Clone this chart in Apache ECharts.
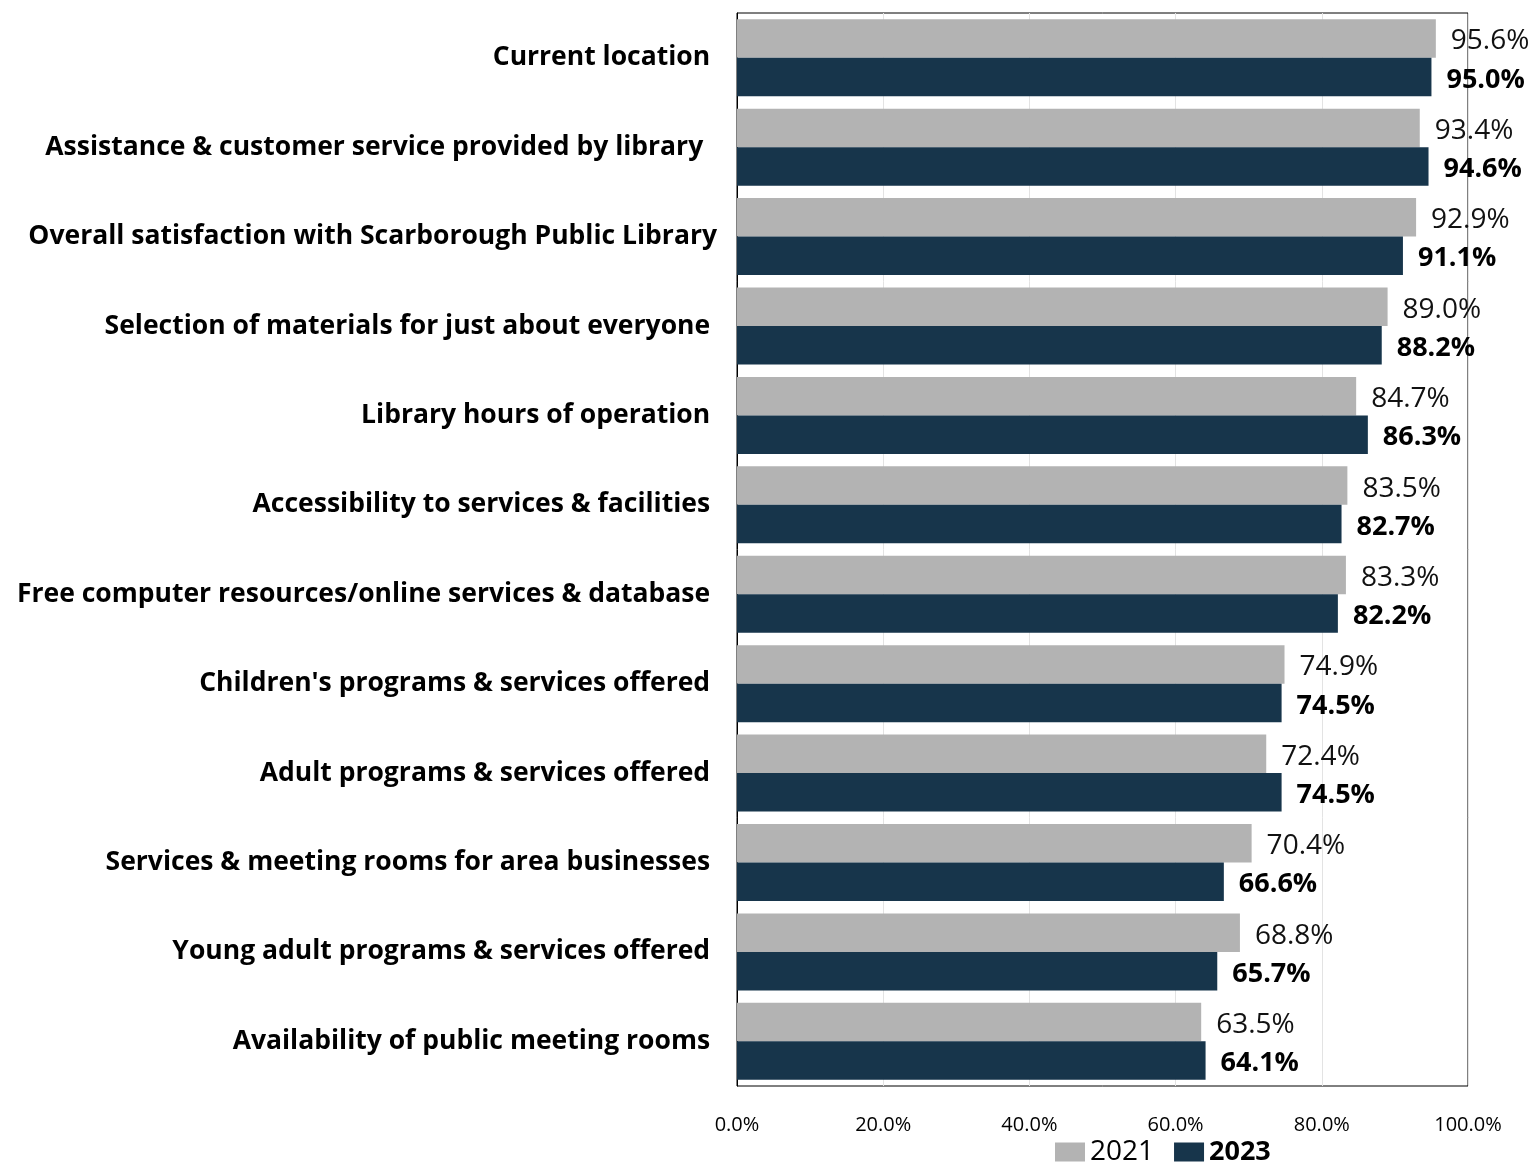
<!DOCTYPE html>
<html>
<head>
<meta charset="utf-8">
<script src="https://cdn.jsdelivr.net/npm/echarts@6/dist/echarts.min.js"></script>
<style>
  html, body { margin: 0; padding: 0; background: #fff; }
  #chart { width: 1535px; height: 1164px; }
</style>
</head>
<body>
<div id="chart"></div>
<script>
const categories = [
  'Current location ',
  'Assistance & customer service provided by library  ',
  'Overall satisfaction with Scarborough Public Library',
  'Selection of materials for just about everyone ',
  'Library hours of operation ',
  'Accessibility to services & facilities ',
  'Free computer resources/online services & database ',
  "Children's programs & services offered ",
  'Adult programs & services offered ',
  'Services & meeting rooms for area businesses ',
  'Young adult programs & services offered ',
  'Availability of public meeting rooms '
];
const values2021 = [95.6, 93.4, 92.9, 89.0, 84.7, 83.5, 83.3, 74.9, 72.4, 70.4, 68.8, 63.5];
const values2023 = [95.0, 94.6, 91.1, 88.2, 86.3, 82.7, 82.2, 74.5, 74.5, 66.6, 65.7, 64.1];
const xTicks = [0, 20, 40, 60, 80, 100];

const FONT = '"Open Sans", sans-serif';
const chart = echarts.init(document.getElementById('chart'), null, { renderer: 'canvas' });

chart.setOption({
  animation: false,
  textStyle: { fontFamily: FONT },
  grid: {
    left: 737, right: 67, top: 13, bottom: 78,
    show: true, borderColor: '#000', borderWidth: 1, backgroundColor: 'transparent'
  },
  legend: {
    left: 1055, top: 1138, padding: 0,
    icon: 'rect',
    itemWidth: 30, itemHeight: 19, itemGap: 20,
    data: ['2021', '2023'],
    formatter: name => name === '2023' ? '{b|' + name + '}' : '{n|' + name + '}',
    textStyle: {
      rich: {
        n: { fontFamily: FONT, fontSize: 28, color: '#000' },
        b: { fontFamily: FONT, fontSize: 27, fontWeight: 'bold', color: '#000' }
      }
    }
  },
  xAxis: {
    type: 'value', min: 0, max: 100, interval: 20,
    axisLine: { show: false }, axisTick: { show: false },
    splitLine: { show: true, lineStyle: { color: '#e3e3e3', width: 1 } },
    axisLabel: {
      margin: 29, fontSize: 20, color: '#000', fontFamily: FONT,
      formatter: v => xTicks.includes(v) ? v.toFixed(1) + '%' : ''
    }
  },
  yAxis: {
    type: 'category', inverse: true, data: categories,
    axisLine: { show: true, lineStyle: { color: '#000', width: 1 } },
    axisTick: { show: false },
    axisLabel: {
      margin: 20, fontSize: 26.5, fontWeight: 'bold', color: '#000', fontFamily: FONT,
      padding: [10, 0, 0, 0]
    }
  },
  series: [
    {
      name: '2021', type: 'bar', data: values2021,
      barWidth: 38.5, barGap: '0%',
      itemStyle: { color: '#b3b3b3' },
      label: {
        show: true, position: 'right', distance: 15, offset: [0, 3],
        fontSize: 28, color: '#111', fontFamily: FONT,
        formatter: p => p.value.toFixed(1) + '%'
      }
    },
    {
      name: '2023', type: 'bar', data: values2023,
      barWidth: 38.5, barGap: '0%',
      itemStyle: { color: '#17354b' },
      label: {
        show: true, position: 'right', distance: 15, offset: [0, 3],
        fontSize: 27, fontWeight: 'bold', color: '#000', fontFamily: FONT,
        formatter: p => p.value.toFixed(1) + '%'
      }
    }
  ]
});
</script>
</body>
</html>
